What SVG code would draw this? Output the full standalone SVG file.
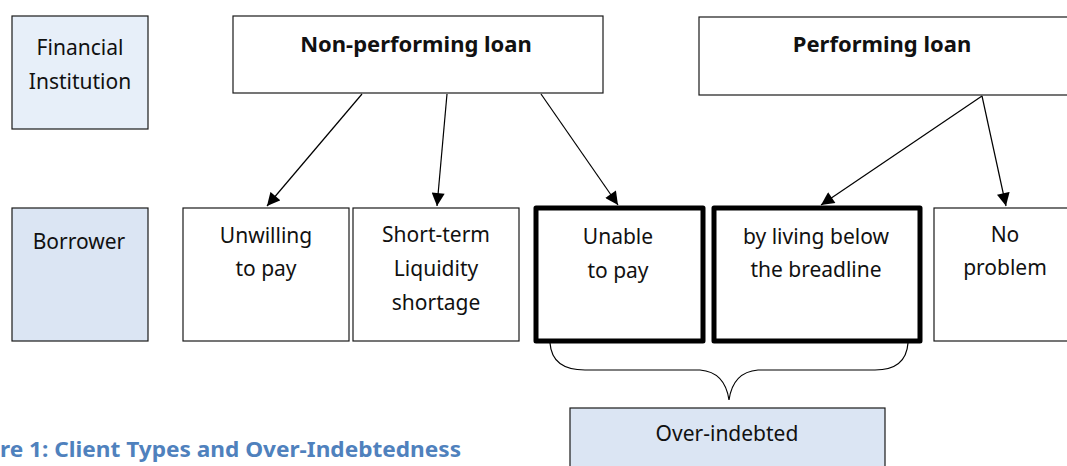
<svg xmlns="http://www.w3.org/2000/svg" width="1067" height="466" viewBox="0 0 1067 466">
<style>
.box{fill:#ffffff;stroke:#1a1a1a;stroke-width:1.2}
.thick{fill:#ffffff;stroke:#000000;stroke-width:5;stroke-linejoin:round}
.fi{fill:#e7eff9;stroke:#1a1a1a;stroke-width:1.2}
.bl{fill:#dbe5f3;stroke:#1a1a1a;stroke-width:1.2}
.t{font-family:"Noto Sans","Open Sans","DejaVu Sans",sans-serif;font-size:21px;fill:#111;text-anchor:middle}
.b{font-family:"Noto Sans","Open Sans","DejaVu Sans",sans-serif;font-size:22px;font-weight:bold;fill:#111;text-anchor:middle}
.cap{font-family:"Noto Sans","Open Sans","DejaVu Sans",sans-serif;font-size:21px;font-weight:bold;fill:#4f81bd}
.c{stroke:#000;stroke-width:1.2;fill:none}
</style>
<defs>
<marker id="ah" viewBox="0 0 10 10" refX="10" refY="5" markerWidth="14" markerHeight="13" markerUnits="userSpaceOnUse" orient="auto">
<path d="M0,0 L10,5 L0,10 Z" fill="#000"/>
</marker>
</defs>
<g id="financial-institution">
<rect class="fi" x="12" y="16" width="136" height="113"/>
<text class="t" x="80" y="55">Financial</text>
<text class="t" x="80" y="89">Institution</text>
</g>
<g id="non-performing-loan">
<rect class="box" x="233" y="16" width="370" height="77"/>
<text class="b" x="416" y="52">Non-performing loan</text>
</g>
<g id="performing-loan">
<rect class="box" x="699" y="17" width="380" height="78"/>
<text class="b" x="882" y="52">Performing loan</text>
</g>
<g id="borrower">
<rect class="bl" x="12" y="208" width="136" height="133"/>
<text class="t" x="79" y="249">Borrower</text>
</g>
<g id="unwilling">
<rect class="box" x="183" y="208" width="166" height="133"/>
<text class="t" x="266" y="243">Unwilling</text>
<text class="t" x="266" y="276">to pay</text>
</g>
<g id="short-term">
<rect class="box" x="353" y="208" width="166" height="133"/>
<text class="t" x="436" y="242">Short-term</text>
<text class="t" x="436" y="276">Liquidity</text>
<text class="t" x="436" y="310">shortage</text>
</g>
<g id="unable">
<rect class="thick" x="536" y="208" width="167" height="133"/>
<text class="t" x="618" y="244">Unable</text>
<text class="t" x="618" y="278">to pay</text>
</g>
<g id="breadline">
<rect class="thick" x="714" y="208" width="206" height="133"/>
<text class="t" x="816" y="244">by living below</text>
<text class="t" x="816" y="277">the breadline</text>
</g>
<g id="no-problem">
<rect class="box" x="934" y="208" width="140" height="133"/>
<text class="t" x="1005" y="242">No</text>
<text class="t" x="1005" y="275">problem</text>
</g>
<g id="over-indebted">
<rect class="bl" x="570" y="408" width="315" height="70"/>
<text class="t" x="727" y="441">Over-indebted</text>
</g>
<g id="connectors">
<line class="c" x1="362" y1="94" x2="267" y2="206" marker-end="url(#ah)"/>
<line class="c" x1="447" y1="94" x2="437" y2="206" marker-end="url(#ah)"/>
<line class="c" x1="541" y1="94" x2="618" y2="205" marker-end="url(#ah)"/>
<line class="c" x1="982" y1="96" x2="821" y2="205" marker-end="url(#ah)"/>
<line class="c" x1="982" y1="96" x2="1006" y2="206" marker-end="url(#ah)"/>
<path class="c" d="M550,343 Q552,370 585,370 L700,370 Q725,372 729,400 Q733,372 758,370 L875,370 Q906,370 908,343"/>
</g>
<text class="cap" x="0" y="457" textLength="461" lengthAdjust="spacingAndGlyphs">re 1: Client Types and Over-Indebtedness</text>
</svg>
